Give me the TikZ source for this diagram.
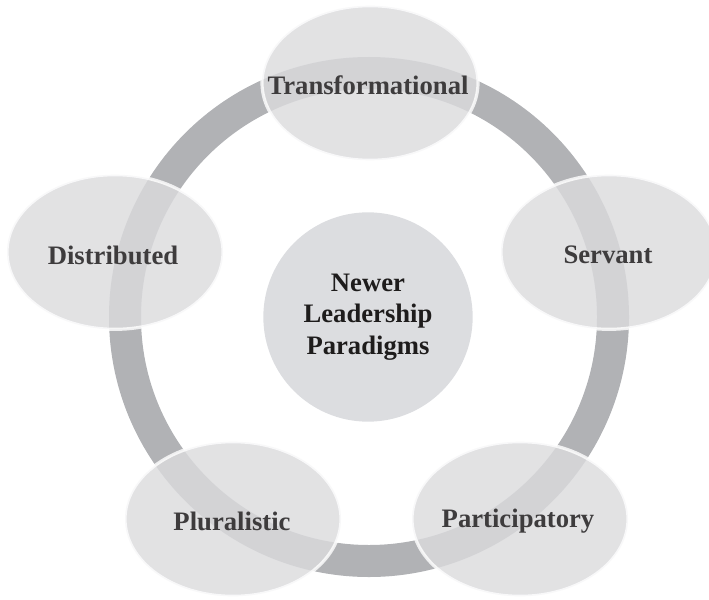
\documentclass[tikz,border=0pt]{standalone}
\usepackage{fontspec}
\setmainfont{Liberation Serif}
\usepackage{xcolor}
\usetikzlibrary{shapes.geometric}

\definecolor{ringgray}{HTML}{B1B2B5}
\definecolor{bubblegray}{HTML}{DBDBDD}
\definecolor{hubgray}{HTML}{DCDDE0}
\definecolor{labelgray}{HTML}{3E3C3D}
\definecolor{hubtext}{HTML}{1E1C1C}

\begin{document}
\begin{tikzpicture}[x=0.75pt,y=-0.75pt]
\tikzstyle{bubble}=[ellipse,minimum width=162pt,minimum height=116pt,inner sep=0pt,fill=bubblegray,fill opacity=0.81,draw=white,draw opacity=0.8,line width=2.4pt]
\tikzstyle{tag}=[inner sep=0pt,text=labelgray,font=\fontsize{20}{22}\selectfont\bfseries]
\tikzstyle{hub}=[circle,minimum size=157pt,inner sep=0pt,fill=hubgray,text=hubtext,align=center,font=\fontsize{20}{23.75}\selectfont\bfseries]
\useasboundingbox (0,0) rectangle (709,599);
\coordinate (ctr) at (369,317);
% the cycle ring
\draw[ringgray,line width=24pt] (ctr) circle (183pt);
% the five paradigms
\node[bubble] (transf) at (370,83) {};
\node[bubble] (servant) at (609,252) {};
\node[bubble] (partic) at (520,519) {};
\node[bubble] (plural) at (233,519) {};
\node[bubble] (distrib) at (115,252) {};
\node[tag] (transf-t) at (368,85) {Transformational};
\node[tag] (servant-t) at (608,255) {Servant};
\node[tag] (partic-t) at (518,521) {Participatory};
\node[tag] (plural-t) at (232,521) {Pluralistic};
\node[tag] (distrib-t) at (113,255) {Distributed};
% centre
\node[hub] (hub) at (368,317) {Newer\\Leadership\\Paradigms};
\end{tikzpicture}
\end{document}
